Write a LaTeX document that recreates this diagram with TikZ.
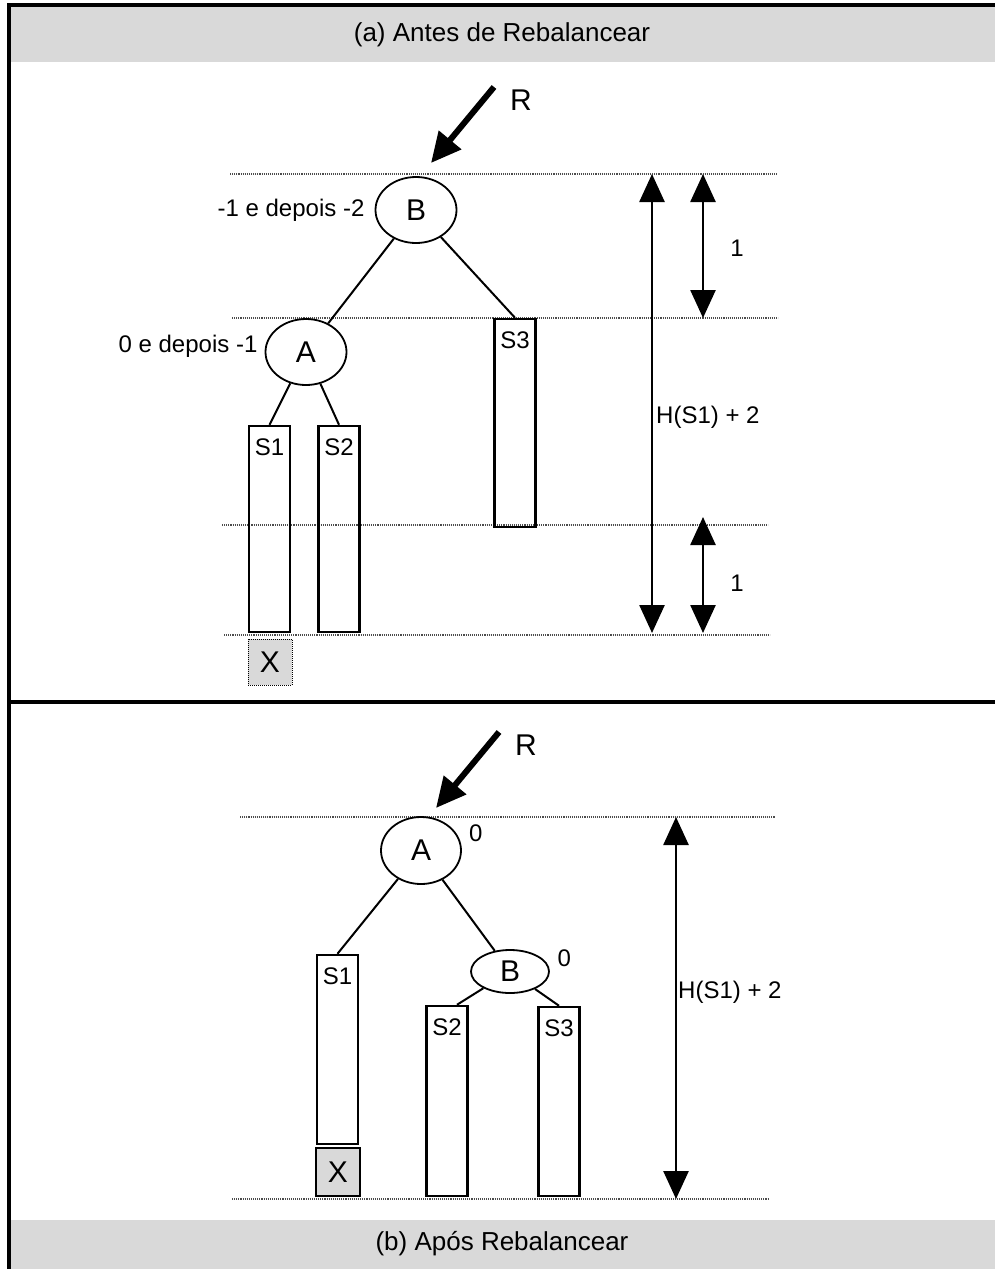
\documentclass[tikz,border=0pt]{standalone}
\usepackage{fontspec}
\setmainfont{Liberation Sans}
\usetikzlibrary{arrows.meta,shapes.geometric,positioning}
\definecolor{bandgray}{RGB}{217,217,217}
\newcommand{\lblfont}{\fontsize{24}{28}\selectfont}
\newcommand{\keyfont}{\fontsize{30}{34}\selectfont}
\newcommand{\headfont}{\fontsize{26}{30}\selectfont}

\begin{document}
\begin{tikzpicture}[x=1pt,y=-1pt,
  every node/.style={font=\lblfont,inner sep=0pt},
  key/.style={ellipse,draw,line width=1.8pt,font=\keyfont},
  subtree/.style={draw,line width=2.5pt,minimum width=41pt},
  leaf/.style={fill=bandgray,minimum width=44pt,font=\keyfont},
  edge/.style={line width=2pt},
  guide/.style={line width=1.1pt,densely dotted,black!70},
  dim/.style={line width=2.6pt,{Triangle[width=25pt,length=28pt]}-{Triangle[width=25pt,length=28pt]}},
  root/.style={line width=6pt,-{Triangle[width=28pt,length=30pt]}}]
  \useasboundingbox (0,0) rectangle (994,1269);

  % frame and captions
  \fill[bandgray] (11,7) rectangle (1000,62);
  \fill[bandgray] (11,1220) rectangle (1000,1275);
  \draw[line width=4pt] (9,5) rectangle (1000,1275);
  \draw[line width=4pt] (9,702) -- (1000,702);
  \node[font=\headfont] (capA) at (502,35) {(a) Antes de Rebalancear};
  \node[font=\headfont] (capB) at (502,1244) {(b) Após Rebalancear};

  % (a) before
  \draw[guide] (230,174) -- (777,174);
  \draw[guide] (232,318) -- (778,318);
  \draw[guide] (222,525) -- (768,525);
  \draw[guide] (224,635) -- (770,635);

  \draw[root] (494,87) -- (431,163);
  \node[font=\keyfont] (rlbl) at (521,100) {R};

  \node[key,minimum width=81pt,minimum height=66pt] (B) at (416,210) {B};
  \node[key,minimum width=81pt,minimum height=66pt] (A) at (306,352) {A};
  \node[left=10pt of B] (balB) {-1 e depois -2};
  \node[left=7pt of A,yshift=6pt] (balA) {0 e depois -1};

  \node[subtree,minimum height=206pt] (S1) at (269.5,529) {};
  \node[subtree,minimum height=206pt] (S2) at (339,529) {};
  \node[subtree,minimum height=208pt] (S3) at (515,423) {};
  \node (S1lbl) at ([yshift=-22pt]S1.north) {S1};
  \node (S2lbl) at ([yshift=-22pt]S2.north) {S2};
  \node (S3lbl) at ([yshift=-22pt]S3.north) {S3};
  \node[leaf,draw,densely dotted,line width=1pt,minimum height=46pt] (X) at (270,662) {X};

  \draw[edge] (B) -- (A);
  \draw[edge] (B) -- (S3.north);
  \draw[edge] (A) -- (S1.north);
  \draw[edge] (A) -- (S2.north);

  \draw[dim] (652,174) -- (652,633);
  \node[anchor=west] (hlbl) at (656,417) {H(S1) + 2};
  \draw[dim] (703,174) -- (703,318);
  \node (onetop) at (737,248) {1};
  \draw[dim] (703,517) -- (703,633);
  \node (onebot) at (737,583) {1};

  % (b) after
  \draw[guide] (240,817) -- (775,817);
  \draw[guide] (232,1199) -- (768,1199);

  \draw[root] (499,732) -- (436,808);
  \node[font=\keyfont] (newrlbl) at (526,745) {R};

  \node[key,minimum width=80pt,minimum height=67pt] (newA) at (421,850.5) {A};
  \node[key,minimum width=78pt,minimum height=43pt] (newB) at (510,971.5) {B};
  \node (balnewA) at ([xshift=14pt,yshift=17.5pt]newA.east) {0};
  \node (balnewB) at ([xshift=14.5pt,yshift=13pt]newB.east) {0};

  \node[subtree,minimum height=189pt] (newS1) at (337.5,1049.5) {};
  \node[subtree,minimum height=190pt] (newS2) at (447,1101) {};
  \node[subtree,minimum height=189pt] (newS3) at (559,1101.5) {};
  \node (newS1lbl) at ([yshift=-22pt]newS1.north) {S1};
  \node (newS2lbl) at ([yshift=-22pt]newS2.north) {S2};
  \node (newS3lbl) at ([yshift=-22pt]newS3.north) {S3};
  \node[leaf,draw,line width=2pt,minimum height=48pt] (newX) at (338,1172) {X};

  \draw[edge] (newA) -- (newS1.north);
  \draw[edge] (newA) -- (newB);
  \draw[edge] (newB) -- ([xshift=10pt]newS2.north);
  \draw[edge] (newB) -- (newS3.north);

  \draw[dim] (676,817) -- (676,1199);
  \node[anchor=west] (newhlbl) at (678,992) {H(S1) + 2};
\end{tikzpicture}
\end{document}
